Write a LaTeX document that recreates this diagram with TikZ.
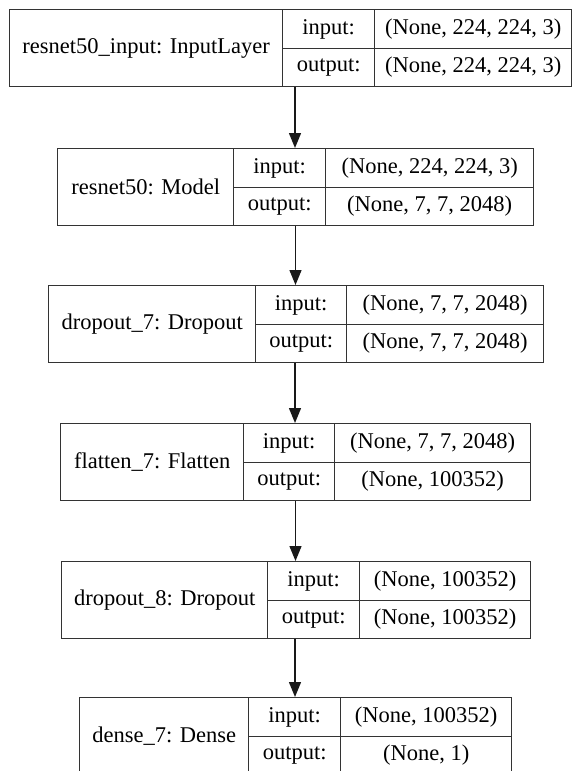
\documentclass[tikz,border=0pt]{standalone}
\usepackage{fontspec}
\setmainfont{Liberation Serif}
\usetikzlibrary{arrows.meta}

\begin{document}
\begin{tikzpicture}[
        x=1pt, y=-1pt,
        cell/.style={rectangle, draw=black!80, line width=1.4pt, inner sep=0pt, font=\fontsize{22.5}{27}\selectfont},
        link/.style={draw=black!90, line width=1.4pt, -{Triangle[length=15pt, width=12pt]}}
    ]

    \useasboundingbox (0,0) rectangle (571,771);

    % layers: name, input/output labels, shapes
    \foreach \id/\lx/\ty/\da/\db/\rx/\lname/\inp/\outp in {
        l1/9/9/282/374/571/{resnet50\_input: InputLayer}/{(None, 224, 224, 3)}/{(None, 224, 224, 3)},
        l2/57/148/233/325/533/{resnet50: Model}/{(None, 224, 224, 3)}/{(None, 7, 7, 2048)},
        l3/48/285/255/346/543/{dropout\_7: Dropout}/{(None, 7, 7, 2048)}/{(None, 7, 7, 2048)},
        l4/60/423/243/334/530/{flatten\_7: Flatten}/{(None, 7, 7, 2048)}/{(None, 100352)},
        l5/61/561/267/359/530/{dropout\_8: Dropout}/{(None, 100352)}/{(None, 100352)},
        l6/79/697/248/340/511/{dense\_7: Dense}/{(None, 100352)}/{(None, 1)}}
    {
        \node[cell, anchor=north west, minimum width=\da-\lx, minimum height=77] (\id) at (\lx,\ty) {\lname};
        \node[cell, anchor=north west, minimum width=\db-\da, minimum height=38.5] (\id-in) at (\da,\ty) {input:};
        \node[cell, anchor=north west, minimum width=\db-\da, minimum height=38.5] (\id-out) at (\da,\ty+38.5) {output:};
        \node[cell, anchor=north west, minimum width=\rx-\db, minimum height=38.5] (\id-inval) at (\db,\ty) {\inp};
        \node[cell, anchor=north west, minimum width=\rx-\db, minimum height=38.5] (\id-outval) at (\db,\ty+38.5) {\outp};
        % middle of the top edge, where the incoming arrow ends
        \coordinate (\id-top) at ({(\lx+\rx)/2},\ty);
    }

    % arrows between layers
    \foreach \src/\dst in {l1/l2, l2/l3, l3/l4, l4/l5, l5/l6}
        \draw[link] (\src.south -| \dst-top) -- (\dst-top);

\end{tikzpicture}
\end{document}
